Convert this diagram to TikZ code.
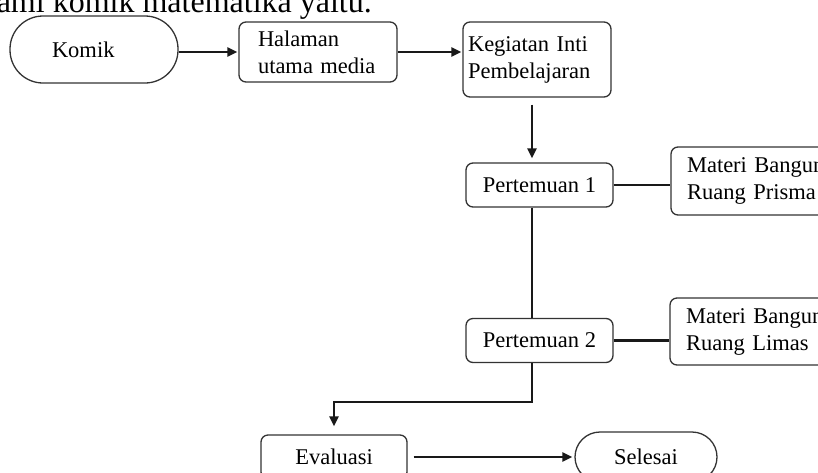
\documentclass[tikz,border=0pt]{standalone}
\usepackage{fontspec}
\setmainfont{Liberation Serif}
\usetikzlibrary{arrows.meta,calc}

\begin{document}
\begin{tikzpicture}[
    x=1pt, y=-1pt,
    font=\fontsize{22.5pt}{27pt}\selectfont,
    % All boxes share the same border look
    box/.style={draw=black!80, line width=1.3pt, rounded corners=7pt,
                inner ysep=2pt, minimum height=44pt},
    % Variants
    meetnode/.style={box, minimum width=147pt, align=center},
    leftnode/.style={box, align=left},
    pill/.style={box, rounded corners=25pt, align=center},
    % Connectors
    arr/.style={-{Triangle[length=10pt,width=9pt]}, line width=2.4pt, draw=black!90},
    ln/.style={line width=2.4pt, draw=black!90},
]

% Page is 818 x 472, x right and y down, 1pt = 1px of the reference
\useasboundingbox (0,0) rectangle (818,472);
\clip (0,0) rectangle (818,472);

%% ── Caption line (cut off at the top) ──
\node[font=\fontsize{32pt}{38pt}\selectfont, anchor=base east, inner sep=0pt]
     (intro) at (372,12) {ami komik matematika yaitu.};

%% ── Row 1: start  y = 50 ──
\node[pill, minimum width=168pt, minimum height=67pt, rounded corners=33pt,
      inner xsep=42pt, text width=84pt, align=left] (komik) at (94,49.5) {Komik};
\node[leftnode, minimum width=158pt, minimum height=60pt,
      inner xsep=19pt, text width=120pt] (hal) at (318,52) {Halaman\\utama media};
\node[leftnode, minimum width=148pt, minimum height=75pt,
      inner xsep=5pt, text width=138pt] (keg) at (537,59.5) {Kegiatan Inti\\Pembelajaran};

%% ── Meetings, spine at x = 532 ──
\coordinate (spine) at (532,0);
\node[meetnode] (p1) at (539.5,185)   {Pertemuan 1};
\node[meetnode] (p2) at (539.5,340.5) {Pertemuan 2};

%% ── Material boxes (cut off at the right) ──
\node[leftnode, minimum width=170pt, minimum height=68pt,
      inner xsep=16pt, text width=138pt] (prisma) at (756,181) {Materi Bangun\\Ruang Prisma};
\node[leftnode, minimum width=170pt, minimum height=67pt,
      inner xsep=16pt, text width=138pt] (limas) at (755,331.5) {Materi Bangun\\Ruang Limas};

%% ── End row  y = 457 ──
\node[meetnode, minimum width=146pt] (eval) at (334,457) {Evaluasi};
\node[pill, minimum width=142pt, minimum height=50pt] (sel) at (646,457) {Selesai};

%% ── Top chain ──
\draw[arr, shorten >=1pt] (komik.east |- hal.west) -- (hal.west);
\draw[arr, shorten >=1pt] (hal.east) -- (keg.west |- hal.east);

%% ── Down the spine ──
\draw[arr, shorten <=7pt, shorten >=4pt] (keg.south -| spine) -- (p1.north -| spine);
\draw[ln] (p1.south -| spine) -- (p2.north -| spine);
\draw[arr, shorten >=8pt] (p2.south -| spine) -- ++(0,39) -| (eval.north);

%% ── Links to materials ──
\draw[ln] (p1.east) -- (prisma.west |- p1.east);
\draw[ln] (p2.east) -- (limas.west |- p2.east);

%% ── Finish ──
\draw[arr, shorten <=6pt, shorten >=2pt] (eval.east) -- (sel.west);

\end{tikzpicture}
\end{document}
